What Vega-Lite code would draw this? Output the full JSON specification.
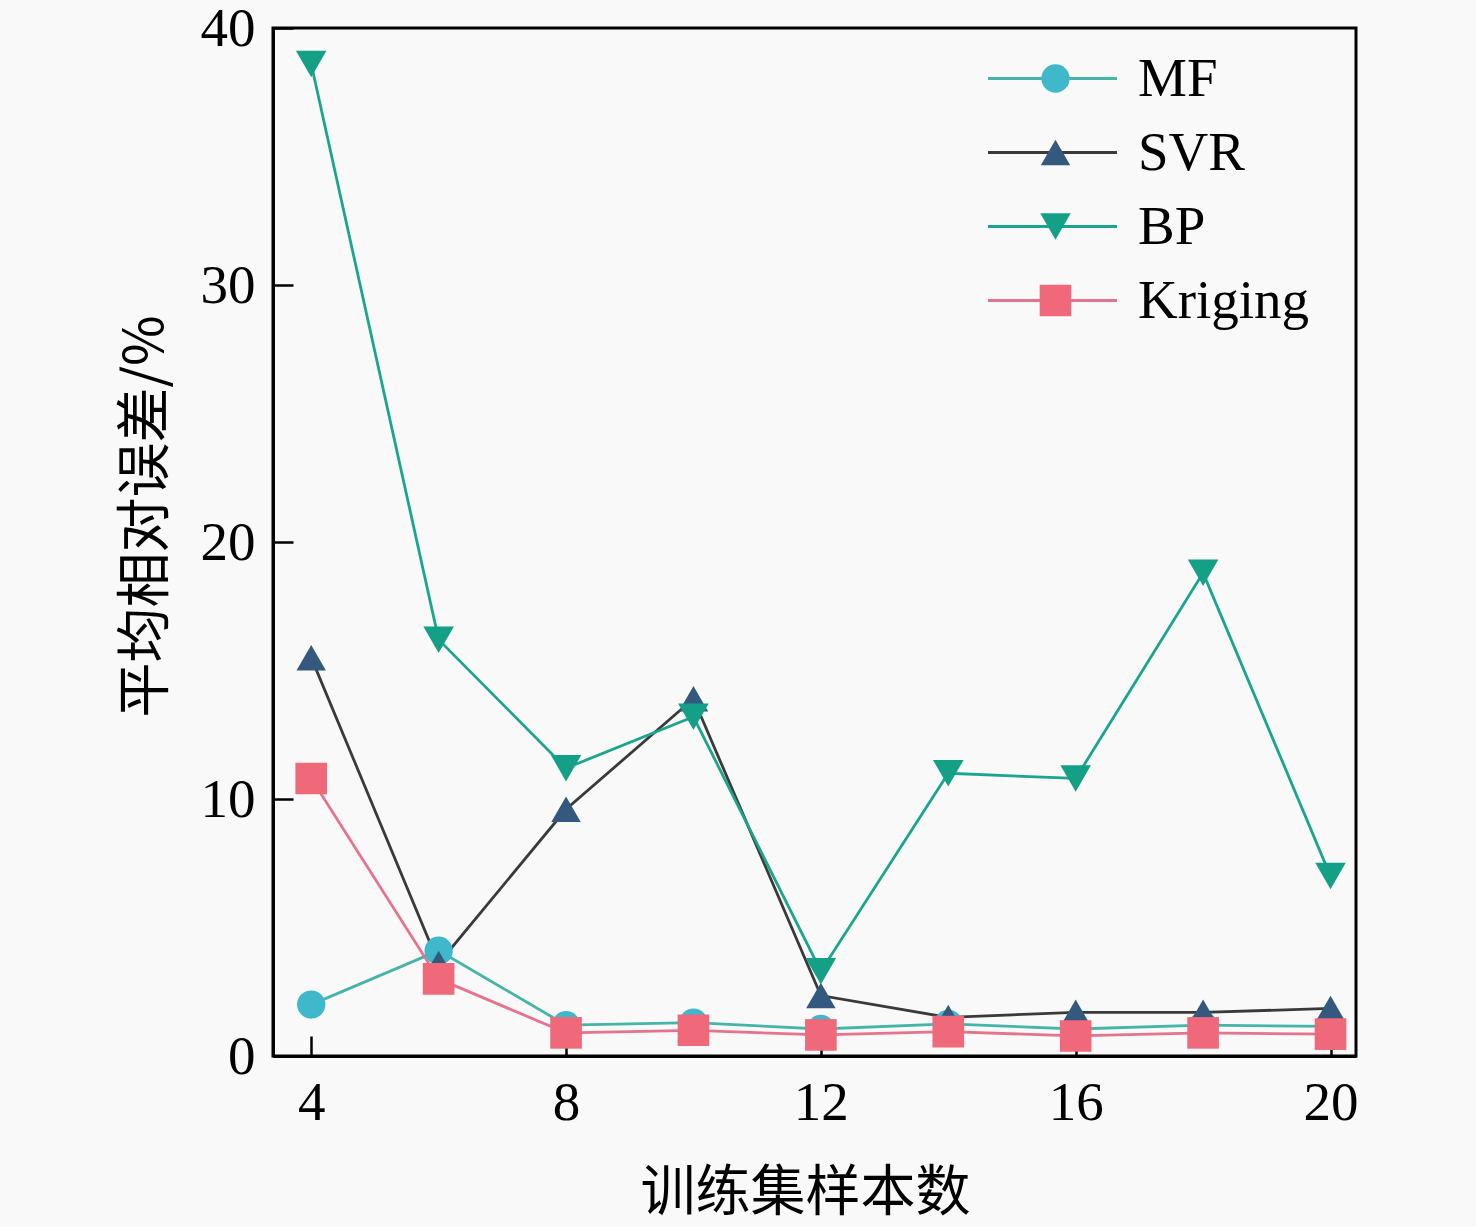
{
  "$schema": "https://vega.github.io/schema/vega-lite/v6.json",
  "autosize": "none",
  "width": 1083,
  "height": 1028,
  "padding": {"left": 273, "top": 28, "right": 120, "bottom": 171},
  "background": "#f9f9f9",
  "config": {
    "view": {"stroke": "#000000", "strokeWidth": 3, "fill": "#f9f9f9"},
    "axis": {
      "domainColor": "#000000", "domainWidth": 3,
      "tickColor": "#000000", "tickWidth": 2.5, "tickSize": -20,
      "grid": false,
      "labelFont": "Liberation Serif", "labelFontSize": 55, "labelColor": "#000000",
      "titleFont": "Noto Sans CJK SC", "titleFontSize": 55, "titleFontWeight": "normal", "titleColor": "#000000"
    },
    "legend": {
      "labelFont": "Liberation Serif", "labelFontSize": 55, "labelColor": "#000000", "labelLimit": 0
    }
  },
  "data": {
    "values": [
      {"n": 4, "series": "MF", "v": 2.0},
      {"n": 6, "series": "MF", "v": 4.1},
      {"n": 8, "series": "MF", "v": 1.2},
      {"n": 10, "series": "MF", "v": 1.3},
      {"n": 12, "series": "MF", "v": 1.05},
      {"n": 14, "series": "MF", "v": 1.25},
      {"n": 16, "series": "MF", "v": 1.05},
      {"n": 18, "series": "MF", "v": 1.2},
      {"n": 20, "series": "MF", "v": 1.15},
      {"n": 4, "series": "SVR", "v": 15.5},
      {"n": 6, "series": "SVR", "v": 3.6},
      {"n": 8, "series": "SVR", "v": 9.6},
      {"n": 10, "series": "SVR", "v": 13.9},
      {"n": 12, "series": "SVR", "v": 2.35},
      {"n": 14, "series": "SVR", "v": 1.5},
      {"n": 16, "series": "SVR", "v": 1.7},
      {"n": 18, "series": "SVR", "v": 1.7},
      {"n": 20, "series": "SVR", "v": 1.85},
      {"n": 4, "series": "BP", "v": 38.6},
      {"n": 6, "series": "BP", "v": 16.2},
      {"n": 8, "series": "BP", "v": 11.2},
      {"n": 10, "series": "BP", "v": 13.2},
      {"n": 12, "series": "BP", "v": 3.3},
      {"n": 14, "series": "BP", "v": 11.0},
      {"n": 16, "series": "BP", "v": 10.8},
      {"n": 18, "series": "BP", "v": 18.8},
      {"n": 20, "series": "BP", "v": 7.0},
      {"n": 4, "series": "Kriging", "v": 10.8},
      {"n": 6, "series": "Kriging", "v": 3.0},
      {"n": 8, "series": "Kriging", "v": 0.9},
      {"n": 10, "series": "Kriging", "v": 1.0},
      {"n": 12, "series": "Kriging", "v": 0.82},
      {"n": 14, "series": "Kriging", "v": 0.95},
      {"n": 16, "series": "Kriging", "v": 0.78},
      {"n": 18, "series": "Kriging", "v": 0.9},
      {"n": 20, "series": "Kriging", "v": 0.85}
    ]
  },
  "encoding": {
    "x": {
      "field": "n", "type": "quantitative",
      "scale": {"domain": [3.4, 20.4], "nice": false, "zero": false},
      "axis": {"values": [4, 8, 12, 16, 20], "title": "训练集样本数", "labelPadding": 40, "titlePadding": 36, "titleX": 532}
    },
    "y": {
      "field": "v", "type": "quantitative",
      "scale": {"domain": [0, 40], "nice": false},
      "axis": {"values": [0, 10, 20, 30, 40], "title": "平均相对误差/%", "labelPadding": 38, "titlePadding": 26, "titleY": 488}
    }
  },
  "layer": [
    {
      "mark": {"type": "line", "strokeWidth": 2.8},
      "encoding": {
        "stroke": {
          "field": "series", "type": "nominal",
          "sort": ["MF", "SVR", "BP", "Kriging"],
          "scale": {"range": ["#45b5a8", "#3a3a3a", "#1aa58f", "#e6738c"]},
          "legend": {
            "orient": "none", "legendX": 752, "legendY": 23, "title": null,
            "symbolType": "M-4.3,0H4.3", "symbolSize": 900, "symbolStrokeWidth": 3,
            "labelExpr": "''", "rowPadding": 18
          }
        }
      }
    },
    {
      "mark": {"type": "point", "filled": true, "opacity": 1},
      "encoding": {
        "fill": {
          "field": "series", "type": "nominal",
          "scale": {"domain": ["MF", "SVR", "BP", "Kriging"], "range": ["#3fb8cc", "#33597f", "#13a087", "#f0697a"]},
          "legend": {
            "orient": "none", "legendX": 755, "legendY": 23, "title": null,
            "symbolOpacity": 1, "symbolStrokeWidth": 0,
            "labelOffset": 55, "rowPadding": 18
          }
        },
        "shape": {
          "field": "series", "type": "nominal",
          "scale": {"domain": ["MF", "SVR", "BP", "Kriging"], "range": ["circle", "triangle-up", "triangle-down", "square"]}
        },
        "size": {
          "field": "series", "type": "nominal",
          "scale": {"domain": ["MF", "SVR", "BP", "Kriging"], "range": [800, 1000, 1000, 650]}
        }
      }
    }
  ]
}
